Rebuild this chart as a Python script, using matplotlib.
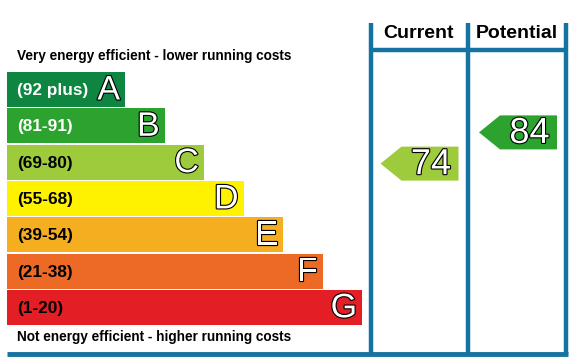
import matplotlib.pyplot as plt
import matplotlib.patheffects as pe
from matplotlib.patches import Polygon

plt.rcParams['font.family'] = ['Liberation Sans', 'DejaVu Sans']

# EPC bands
bands = ['A', 'B', 'C', 'D', 'E', 'F', 'G']
band_ranges = ['(92 plus)', '(81-91)', '(69-80)', '(55-68)', '(39-54)', '(21-38)', '(1-20)']
band_low = [92, 81, 69, 55, 39, 21, 1]
band_high = [100, 91, 80, 68, 54, 38, 20]
band_colors = ['#0e8541', '#2ca32e', '#9ecb3c', '#fff200', '#f6ae21', '#ec6a25', '#e31e24']
label_colors = ['white', 'white', 'black', 'black', 'black', 'black', 'black']

columns = ['Current', 'Potential']
ratings = [74, 84]

edge = '#1473a0'

fig = plt.figure(figsize=(5.78, 3.61), dpi=100)
ax = fig.add_axes([0, 0, 1, 1])
ax.set_xlim(0, 578)
ax.set_ylim(361, 0)
ax.axis('off')

top = 72
pitch = 36.3
bh = 35
outline = [pe.Stroke(linewidth=1.6, foreground='black'), pe.Normal()]

# band bars
ys = [top + bh / 2 + i * pitch for i in range(len(bands))]
widths = [118 + 39.5 * i for i in range(len(bands))]
ax.barh(ys, widths, left=7, height=bh, color=band_colors)
for y, w, b, r, lc in zip(ys, widths, bands, band_ranges, label_colors):
    ax.text(17, y + 1, r, fontsize=12.4, fontweight='bold', color=lc, va='center')
    ax.text(7 + w - 5, y + 1.5, b, fontsize=24.5, color='white', ha='right', va='center',
            path_effects=outline)

ax.text(17, 56, 'Very energy efficient - lower running costs', fontsize=9.8,
        fontweight='bold', va='center')
ax.text(17, 337, 'Not energy efficient - higher running costs', fontsize=9.8,
        fontweight='bold', va='center')

# frame
col_x = [370.5, 467.5, 566]
for x in col_x:
    ax.plot([x, x], [23, 354], color=edge, lw=3.2, solid_capstyle='butt')
ax.plot([7, 568], [353.5, 353.5], color=edge, lw=3.5, solid_capstyle='butt')
ax.plot([370.5, 566], [49.5, 49.5], color=edge, lw=3.2, solid_capstyle='butt')

for i, (name, val) in enumerate(zip(columns, ratings)):
    cx = (col_x[i] + col_x[i + 1]) / 2
    ax.text(cx, 34, name, fontsize=14, fontweight='bold', ha='center', va='center')
    k = next(j for j in range(len(bands)) if band_low[j] <= val <= band_high[j])
    mid = (band_low[k] + band_high[k]) / 2
    yc = ys[k] + (mid - val) / (band_high[k] - band_low[k] + 1) * pitch
    right = col_x[i + 1] - 9
    left = right - 78
    h = 17
    ax.add_patch(Polygon([(left, yc), (left + 21, yc - h), (right, yc - h),
                          (right, yc + h), (left + 21, yc + h)],
                         closed=True, color=band_colors[k], lw=0))
    ax.text((left + 21 + right) / 2 + 1, yc + 1, str(val), fontsize=26, color='white',
            ha='center', va='center', path_effects=outline)

fig.savefig('out.png', dpi=100)
